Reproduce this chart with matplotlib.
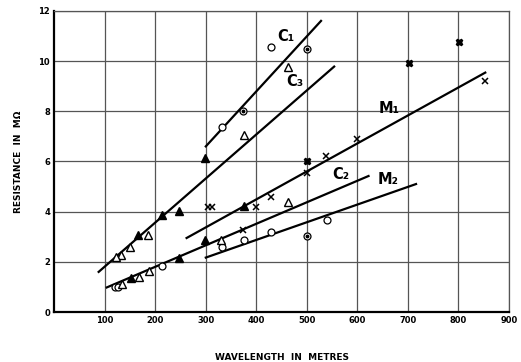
import matplotlib
matplotlib.use("Agg")
import matplotlib.pyplot as plt

# ---- data ----
x_ticks = [100, 200, 300, 400, 500, 600, 700, 800, 900]
y_ticks = [0, 2, 4, 6, 8, 10, 12]

open_circle_x = [429, 333, 539, 429, 376, 333, 214, 121, 127]
open_circle_y = [10.58, 7.36, 3.65, 3.18, 2.87, 2.6, 1.85, 0.98, 0.98]

dot_circle_x = [501, 374, 500]
dot_circle_y = [10.47, 8.03, 3.04]

open_tri_x = [463, 376, 462, 185, 150, 132, 123, 187, 167, 134, 331]
open_tri_y = [9.78, 7.06, 4.4, 3.08, 2.58, 2.28, 2.18, 1.63, 1.4, 1.1, 2.88]

filled_tri_x = [298, 247, 214, 166, 376, 299, 247, 152]
filled_tri_y = [6.14, 4.02, 3.85, 3.07, 4.23, 2.87, 2.15, 1.36]

cross_x = [853, 600, 538, 501, 429, 399, 373, 304, 313]
cross_y = [9.22, 6.88, 6.2, 5.55, 4.58, 4.2, 3.27, 4.2, 4.2]

star_x = [802, 702, 501]
star_y = [10.74, 9.93, 6.0]

line_names = ["C\u2081", "C\u2083", "M\u2081", "C\u2082", "M\u2082"]
line_x0 = [300, 88, 262, 104, 300]
line_x1 = [528, 554, 853, 622, 716]
line_y0 = [6.6, 1.6, 2.95, 0.98, 2.17]
line_y1 = [11.6, 9.78, 9.54, 5.42, 5.1]
label_x = [459, 477, 663, 568, 660]
label_y = [10.98, 9.18, 8.12, 5.5, 5.3]

# ---- figure ----
fig = plt.figure(figsize=(5.21, 3.62), dpi=100)
ax = fig.add_axes([0.104, 0.138, 0.873, 0.832])
ax.set_xlim(0, 900)
ax.set_ylim(0, 12)
ax.set_xticks(x_ticks)
ax.set_yticks(y_ticks)
ax.grid(True, color="#555555", linewidth=0.9)
ax.set_axisbelow(True)
for s in ["top", "right"]:
    ax.spines[s].set_color("#555555")
    ax.spines[s].set_linewidth(0.9)
for s in ["left", "bottom"]:
    ax.spines[s].set_color("black")
    ax.spines[s].set_linewidth(1.6)
ax.tick_params(length=0, pad=3, labelsize=6)
for lab in ax.get_xticklabels() + ax.get_yticklabels():
    lab.set_fontweight("bold")

for i in range(len(line_names)):
    ax.plot([line_x0[i], line_x1[i]], [line_y0[i], line_y1[i]], color="black", lw=1.6, zorder=3)
    ax.text(label_x[i], label_y[i], line_names[i], fontsize=10.5, fontweight="bold",
            ha="center", va="center", zorder=5)

ms = 5
ax.plot(open_circle_x, open_circle_y, "o", mfc="white", mec="black", mew=0.9, ms=ms, zorder=4)
ax.plot(dot_circle_x, dot_circle_y, "o", mfc="white", mec="black", mew=0.9, ms=ms, zorder=4)
ax.plot(dot_circle_x, dot_circle_y, "o", color="black", ms=1.8, zorder=5)
ax.plot(open_tri_x, open_tri_y, "^", mfc="white", mec="black", mew=1.0, ms=ms + 0.5, zorder=4)
ax.plot(filled_tri_x, filled_tri_y, "^", color="black", ms=ms + 0.5, zorder=4)
ax.plot(cross_x, cross_y, "x", color="black", mew=1.1, ms=ms, zorder=4)
ax.plot(star_x, star_y, "X", color="black", ms=ms, zorder=4)

ax.set_xlabel("WAVELENGTH  IN  METRES", fontsize=6.5, fontweight="bold", labelpad=20)
ax.set_ylabel("RESISTANCE  IN  M\u03a9", fontsize=6.5, fontweight="bold", labelpad=11)

fig.savefig("out.png", dpi=100)
